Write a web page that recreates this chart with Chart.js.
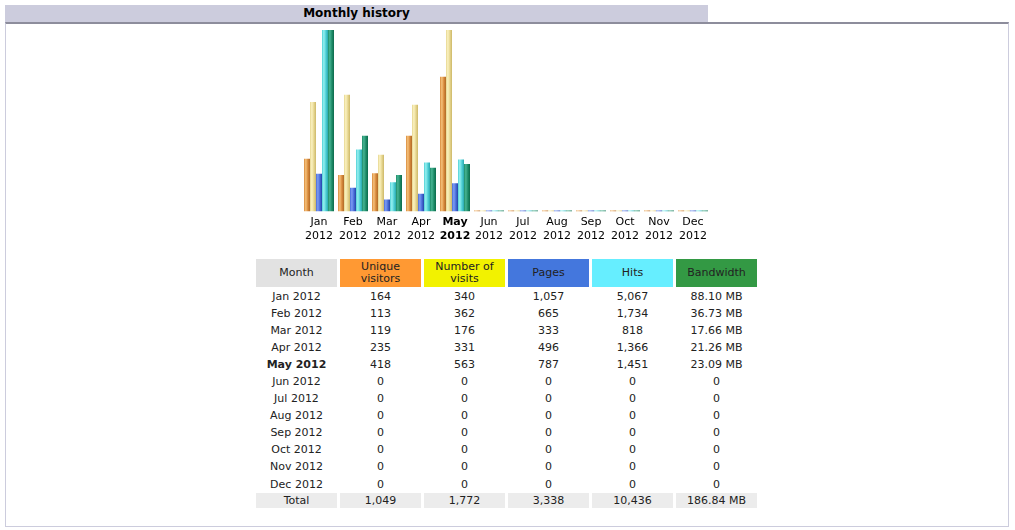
<!DOCTYPE html>
<html lang="en">
<head>
    <meta charset="UTF-8">
    <title>Monthly history</title>
    <script src="https://cdn.jsdelivr.net/npm/chart.js"></script>
    <style>
        body {
            margin: 0;
            background-color: #fff;
            font-family: "DejaVu Sans", Verdana, sans-serif;
            font-size: 11px;
        }

        .title {
            position: absolute;
            left: 5px;
            top: 5px;
            width: 703px;
            height: 17px;
            background-color: #ccccdd;
            text-align: center;
            font-weight: bold;
            font-size: 12px;
            line-height: 17px;
        }

        .box {
            position: absolute;
            left: 5px;
            top: 22px;
            width: 1002px;
            height: 502px;
            border: 1px solid #ccccdd;
            border-top: 2px solid #8d8d9c;
        }

        #chartWrap {
            position: absolute;
            left: 300px;
            top: 26px;
            width: 412px;
            height: 221px;
        }

        table {
            position: absolute;
            left: 253px;
            top: 259px;
            border-collapse: separate;
            border-spacing: 3px 0;
        }

        td, th {
            width: 81px;
            padding: 0;
            text-align: center;
            font-weight: normal;
            color: #222;
            height: 17.1px;
            line-height: 12px;
        }

        th { height: 28px; }
        tr.first td { padding-top: 1px; }
        tr.total td { background-color: #ececec; height: 15px; }
    </style>
</head>
<body>
    <div class="title">Monthly history</div>
    <div class="box"></div>
    <div id="chartWrap"><canvas id="histCanvas"></canvas></div>
    <table id="histTable"></table>

    <script>
        const months = ['Jan', 'Feb', 'Mar', 'Apr', 'May', 'Jun', 'Jul', 'Aug', 'Sep', 'Oct', 'Nov', 'Dec'];
        const year = '2012';
        const currentMonth = 4;

        const uniqueVisitors = [164, 113, 119, 235, 418, 0, 0, 0, 0, 0, 0, 0];
        const visits = [340, 362, 176, 331, 563, 0, 0, 0, 0, 0, 0, 0];
        const pages = [1057, 665, 333, 496, 787, 0, 0, 0, 0, 0, 0, 0];
        const hits = [5067, 1734, 818, 1366, 1451, 0, 0, 0, 0, 0, 0, 0];
        const bandwidthMB = [88.10, 36.73, 17.66, 21.26, 23.09, 0, 0, 0, 0, 0, 0, 0];

        const headers = ['Month', 'Unique<br>visitors', 'Number of<br>visits', 'Pages', 'Hits', 'Bandwidth'];
        const headerColors = ['#e2e2e2', '#ff9933', '#f2f200', '#4477dd', '#66eeff', '#339944'];

        // dark edge, highlight, mid tone for each bar colour
        const barColors = [
            ['#b06a28', '#f6c27c', '#d88a3c'],
            ['#cdb868', '#fbf2c0', '#e6d690'],
            ['#2444a8', '#7c9cf4', '#4a6cd8'],
            ['#2aa8b0', '#96f0f0', '#50d0d6'],
            ['#0c6a4c', '#48b494', '#1e8c68']
        ];

        function barFill(ctx) {
            const c = barColors[ctx.datasetIndex];
            const el = ctx.chart.getDatasetMeta(ctx.datasetIndex).data[ctx.dataIndex];
            if (!el || el.x === undefined || !el.width) return c[2];
            const x0 = el.x - el.width / 2;
            const g = ctx.chart.ctx.createLinearGradient(x0, 0, x0 + el.width, 0);
            g.addColorStop(0, c[2]);
            g.addColorStop(0.3, c[1]);
            g.addColorStop(0.65, c[2]);
            g.addColorStop(1, c[0]);
            return g;
        }

        const fmt = n => n.toLocaleString('en-US');
        const sum = arr => arr.reduce((a, b) => a + b, 0);

        // table
        const table = document.getElementById('histTable');
        let html = '<tr>';
        headers.forEach((h, i) => {
            html += `<th style="background-color:${headerColors[i]}">${h}</th>`;
        });
        html += '</tr>';
        months.forEach((m, i) => {
            const b = i === currentMonth ? ' style="font-weight:bold"' : '';
            const bw = bandwidthMB[i] ? bandwidthMB[i].toFixed(2) + ' MB' : '0';
            const cls = i === 0 ? ' class="first"' : '';
            html += `<tr${cls}><td${b}>${m} ${year}</td><td>${fmt(uniqueVisitors[i])}</td><td>${fmt(visits[i])}</td>` +
                `<td>${fmt(pages[i])}</td><td>${fmt(hits[i])}</td><td>${bw}</td></tr>`;
        });
        html += `<tr class="total"><td>Total</td><td>${fmt(sum(uniqueVisitors))}</td><td>${fmt(sum(visits))}</td>` +
            `<td>${fmt(sum(pages))}</td><td>${fmt(sum(hits))}</td><td>${sum(bandwidthMB).toFixed(2)} MB</td></tr>`;
        table.innerHTML = html;

        // chart
        const ds = (label, data, axis) => ({
            label: label,
            data: data,
            yAxisID: axis,
            backgroundColor: barFill,
            borderWidth: 0,
            minBarLength: 1,
            barPercentage: 1.0,
            categoryPercentage: 30 / 34
        });

        const chart = new Chart(document.getElementById('histCanvas'), {
            type: 'bar',
            data: {
                labels: months.map(m => [m, year]),
                datasets: [
                    ds('Unique visitors', uniqueVisitors, 'yv'),
                    ds('Number of visits', visits, 'yv'),
                    ds('Pages', pages, 'yh'),
                    ds('Hits', hits, 'yh'),
                    ds('Bandwidth', bandwidthMB, 'yk')
                ]
            },
            options: {
                responsive: true,
                maintainAspectRatio: false,
                animation: false,
                layout: { padding: { top: 4, left: 2, right: 2, bottom: 0 } },
                plugins: {
                    legend: { display: false },
                    tooltip: { enabled: false }
                },
                scales: {
                    x: {
                        grid: { display: false, drawTicks: false },
                        border: { display: false },
                        ticks: {
                            color: '#000',
                            padding: 4,
                            maxRotation: 0,
                            autoSkip: false,
                            font: c => ({
                                family: '"DejaVu Sans", Verdana, sans-serif',
                                size: 11,
                                lineHeight: 1.25,
                                weight: c.index === currentMonth ? 'bold' : 'normal'
                            })
                        }
                    },
                    yv: { display: false, min: 0, max: Math.max(...visits) },
                    yh: { display: false, min: 0, max: Math.max(...hits) },
                    yk: { display: false, min: 0, max: Math.max(...bandwidthMB) }
                }
            }
        });
        chart.update('none');
    </script>
</body>
</html>
